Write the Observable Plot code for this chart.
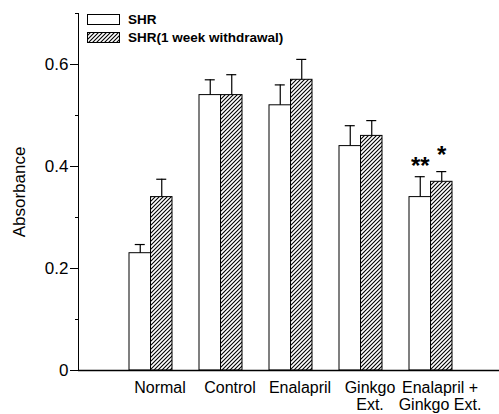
<!DOCTYPE html>
<html><head><meta charset="utf-8">
<script src="https://cdn.jsdelivr.net/npm/d3@7"></script>
<script src="https://cdn.jsdelivr.net/npm/@observablehq/plot@0.6"></script>
<style>
body{margin:0;background:#fff;font-family:"Liberation Sans",Arial,sans-serif;}
#wrap{position:relative;width:499px;height:414px;}
#legend{position:absolute;left:87px;top:14px;font-weight:bold;font-size:13.5px;color:#000;}
.item{display:flex;align-items:center;height:11px;line-height:11px;margin-bottom:7px;white-space:nowrap;}
.item svg{margin-right:8px;display:block;}
</style></head><body>
<svg width="0" height="0" style="position:absolute"><defs>
<pattern id="hatch" width="4" height="4" patternUnits="userSpaceOnUse">
<rect width="4" height="4" fill="white"/>
<path d="M-1,1 l2,-2 M0,4 l4,-4 M3,5 l2,-2" stroke="black" stroke-width="1.1"/>
</pattern></defs></svg>
<div id="wrap"><div id="legend"></div></div>
<script>
const categories = ["Normal", "Control", "Enalapril", "Ginkgo\nExt.", "Enalapril +\nGinkgo Ext."];
const seriesNames = ["SHR", "SHR(1 week withdrawal)"];
const shr = [0.23, 0.54, 0.52, 0.44, 0.34];
const shrErr = [0.017, 0.03, 0.04, 0.04, 0.04];
const wd = [0.34, 0.54, 0.57, 0.46, 0.37];
const wdErr = [0.035, 0.04, 0.04, 0.03, 0.02];
const shrSig = ["", "", "", "", "**"];
const wdSig = ["", "", "", "", "*"];
const majorTicks = [0, 0.2, 0.4, 0.6];
const minorTicks = [0.1, 0.3, 0.5, 0.7];
const yLabel = "Absorbance";

const rows = categories.map((c, i) => ({
  cat: c, shr: shr[i], shrHi: shr[i] + shrErr[i], wd: wd[i], wdHi: wd[i] + wdErr[i],
  shrSig: shrSig[i], wdSig: wdSig[i]
}));

const half = 21.5, capHalf = 5;
const chart = Plot.plot({
  width: 499, height: 414,
  marginLeft: 78, marginRight: 0, marginTop: 13, marginBottom: 44,
  style: {fontFamily: "Liberation Sans, Arial, sans-serif", color: "black", background: "white"},
  x: {type: "band", domain: categories, paddingInner: 0.392, paddingOuter: 0.671, align: 0.516},
  y: {domain: [0, 0.7]},
  marks: [
    Plot.barY(rows, {x: "cat", y: "shr", fill: "white", stroke: "black", strokeWidth: 1, insetRight: half}),
    Plot.barY(rows, {x: "cat", y: "wd", fill: "url(#hatch)", stroke: "black", strokeWidth: 1, insetLeft: half}),
    Plot.ruleX(rows, {x: "cat", y1: "shr", y2: "shrHi", dx: -half / 2, stroke: "black", strokeWidth: 1.2}),
    Plot.ruleX(rows, {x: "cat", y1: "wd", y2: "wdHi", dx: half / 2, stroke: "black", strokeWidth: 1.2}),
    Plot.tickY(rows, {x: "cat", y: "shrHi", insetLeft: half / 2 - capHalf, insetRight: half * 1.5 - capHalf, stroke: "black", strokeWidth: 1.2}),
    Plot.tickY(rows, {x: "cat", y: "wdHi", insetLeft: half * 1.5 - capHalf, insetRight: half / 2 - capHalf, stroke: "black", strokeWidth: 1.2}),
    Plot.text(rows, {x: "cat", y: "shrHi", text: "shrSig", dx: -half / 2, dy: -10, fontSize: 24, fontWeight: "bold"}),
    Plot.text(rows, {x: "cat", y: "wdHi", text: "wdSig", dx: half / 2, dy: -16, fontSize: 24, fontWeight: "bold"}),
    Plot.ruleY([0], {stroke: "black", strokeWidth: 1.4}),
    Plot.frame({anchor: "left", stroke: "black"}),
    Plot.axisY({ticks: majorTicks, tickFormat: d => d === 0 ? "0" : d.toFixed(1), tickSize: 8, tickPadding: 2,
      fontSize: 17, label: yLabel, labelAnchor: "center", labelOffset: 66, labelArrow: false}),
    Plot.axisY({ticks: minorTicks, tickSize: 3, tickFormat: () => "", label: null}),
    Plot.axisX({tickSize: 0, tickPadding: 10, fontSize: 16, dx: 9, lineHeight: 1.06, label: null})
  ]
});
const wrap = document.getElementById("wrap");
wrap.insertBefore(chart, wrap.firstChild);

const fills = ["white", "url(#hatch)"];
const legend = document.getElementById("legend");
seriesNames.forEach((name, i) => {
  const item = document.createElement("div");
  item.className = "item";
  item.innerHTML = `<svg width="33" height="11"><rect x="0.5" y="0.5" width="32" height="10" fill="${fills[i]}" stroke="black"/></svg><span>${name}</span>`;
  legend.appendChild(item);
});
</script>
</body></html>
